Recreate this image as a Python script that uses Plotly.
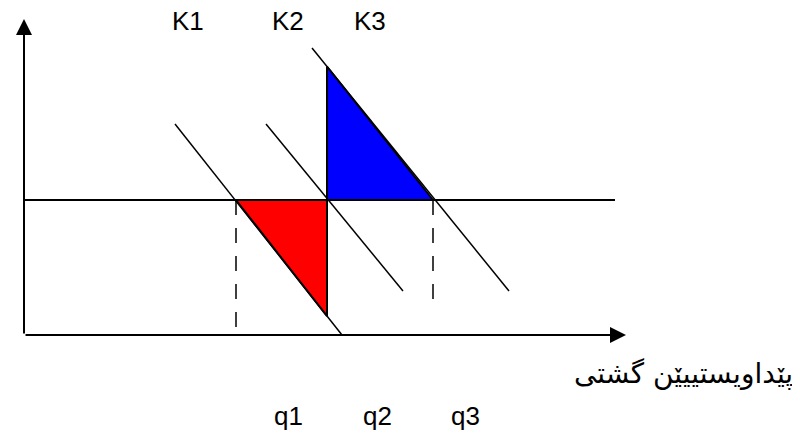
import numpy as np
import plotly.graph_objects as go

# diagram values (quantity on x, price on y, origin at the axes corner)
price_level = 135
q_values = [212, 303, 409]
q_labels = ["q1", "q2", "q3"]
k_labels = ["K1", "K2", "K3"]
k1_x = [151, 318]
k1_y = [211, 0]
k2_x = [242, 379]
k2_y = [211, 44]
k3_x = [288, 485]
k3_y = [287, 44]
axis_x_end = 588
axis_y_end = 316
level_line_end = 591
dash_bottom = [0, 27]
x_axis_title = "پێداویستییێن گشتی"

q1, q2, q3 = q_values


def line_at(xs, ys, x):
    # value of a straight K line at quantity x
    return float(np.interp(x, xs, ys) if xs[0] < xs[1] else np.interp(x, xs[::-1], ys[::-1]))


red_tip = line_at(k1_x, k1_y, q2)
blue_tip = line_at(k3_x, k3_y, q2)

fig = go.Figure()

# red loss triangle and blue gain triangle
fig.add_trace(go.Scatter(
    x=[q1, q2, q2, q1], y=[price_level, price_level, red_tip, price_level],
    mode="lines", fill="toself", fillcolor="#ff0000",
    line=dict(color="black", width=2)
))
fig.add_trace(go.Scatter(
    x=[q2, q3, q2, q2], y=[price_level, price_level, blue_tip, price_level],
    mode="lines", fill="toself", fillcolor="#0000ff",
    line=dict(color="black", width=2)
))

# K lines
for xs, ys in [(k1_x, k1_y), (k2_x, k2_y), (k3_x, k3_y)]:
    fig.add_trace(go.Scatter(x=xs, y=ys, mode="lines",
                             line=dict(color="black", width=1.5)))

# price level line
fig.add_trace(go.Scatter(x=[0, level_line_end], y=[price_level, price_level],
                         mode="lines", line=dict(color="black", width=2)))

# dashed drops to the quantity axis
fig.add_trace(go.Scatter(x=[q1, q1], y=[price_level, dash_bottom[0]], mode="lines",
                         line=dict(color="black", width=1.5, dash="15px,13px")))
fig.add_trace(go.Scatter(x=[q3, q3], y=[price_level, dash_bottom[1]], mode="lines",
                         line=dict(color="black", width=1.5, dash="15px,13px")))

# axes with arrow heads
fig.add_annotation(x=axis_x_end + 14, y=0, ax=0, ay=0, xref="x", yref="y",
                   axref="x", ayref="y", text="", showarrow=True,
                   arrowhead=2, arrowsize=1.6, arrowwidth=2, arrowcolor="black")
fig.add_annotation(x=0, y=axis_y_end, ax=0, ay=0, xref="x", yref="y",
                   axref="x", ayref="y", text="", showarrow=True,
                   arrowhead=2, arrowsize=1.6, arrowwidth=2, arrowcolor="black")

label_font = dict(family="Liberation Sans, Arial, sans-serif", size=26, color="black")
for label, x in zip(k_labels, [164, 264, 346]):
    fig.add_annotation(x=x, y=314, text=label, showarrow=False, font=label_font)
for label, x in zip(q_labels, [264, 353, 441]):
    fig.add_annotation(x=x, y=-81, text=label, showarrow=False, font=label_font)

fig.add_annotation(x=659, y=-38, text=x_axis_title, showarrow=False,
                   font=dict(family="DejaVu Sans, Noto Sans, sans-serif", size=28, color="black"))

# the page body adds an 8px margin, so the ranges are offset to keep the
# diagram where it sits in the original drawing
fig.update_layout(
    width=800, height=437,
    margin=dict(l=0, r=0, t=0, b=0),
    plot_bgcolor="white", paper_bgcolor="white",
    showlegend=False,
    xaxis=dict(range=[-16, 784], visible=False, fixedrange=True),
    yaxis=dict(range=[-110, 327], visible=False, fixedrange=True),
)

fig.write_html("out.html")
